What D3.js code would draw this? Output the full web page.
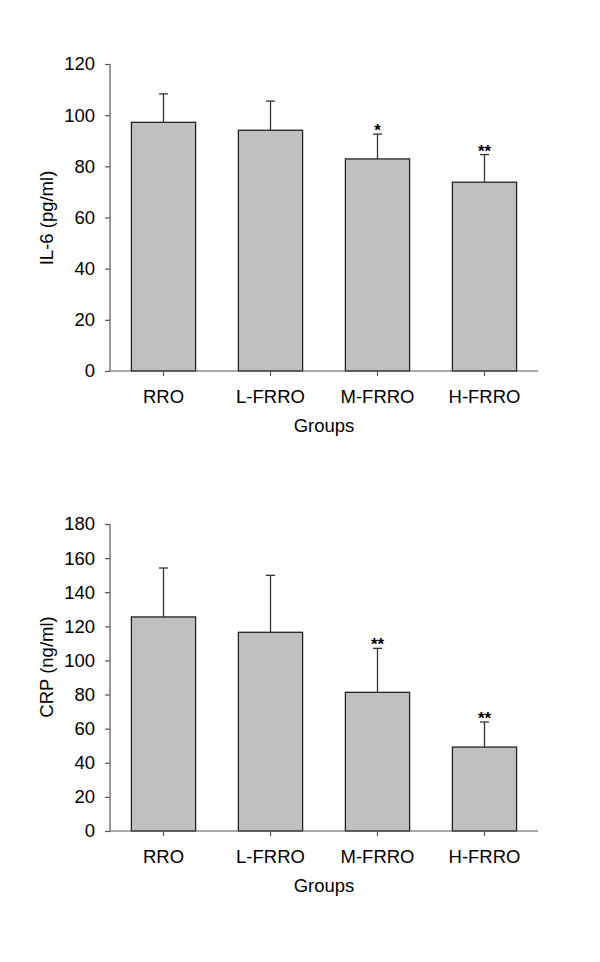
<!DOCTYPE html>
<html>
<head>
<meta charset="utf-8">
<script src="https://cdn.jsdelivr.net/npm/d3@7"></script>
<style>
  html, body { margin: 0; padding: 0; background: #fff; }
  svg { display: block; }
  text { font-family: "Liberation Sans", Arial, sans-serif; fill: #000; }
</style>
</head>
<body>
<div id="chart"></div>
<script>
const groups = ["RRO", "L-FRRO", "M-FRRO", "H-FRRO"];
const il6Mean = [97.2, 94.1, 82.9, 73.8];
const il6Sd = [11.1, 11.4, 9.7, 10.8];
const il6Sig = ["", "", "*", "**"];
const il6Ticks = [0, 20, 40, 60, 80, 100, 120];
const crpMean = [125.5, 116.5, 81.3, 49.2];
const crpSd = [28.7, 33.4, 25.8, 14.7];
const crpSig = ["", "", "**", "**"];
const crpTicks = [0, 20, 40, 60, 80, 100, 120, 140, 160, 180];

const W = 600, H = 962;
const FS = "18.5px";
const svg = d3.select("#chart").append("svg").attr("width", W).attr("height", H);

function panel(cfg) {
  const g = svg.append("g");
  const x = d3.scaleBand().domain(groups).range([110, 538]).paddingInner(0.4).paddingOuter(0.2);
  const y = d3.scaleLinear().domain([0, cfg.max]).range([cfg.y0, cfg.y1]);

  // bars
  g.selectAll("rect.bar").data(groups).join("rect")
    .attr("x", d => x(d)).attr("width", x.bandwidth())
    .attr("y", (d, i) => y(cfg.mean[i]))
    .attr("height", (d, i) => y(0) - y(cfg.mean[i]))
    .attr("fill", "#c0c0c0").attr("stroke", "#222").attr("stroke-width", 1.3);

  // error bars
  const cx = d => x(d) + x.bandwidth() / 2;
  g.selectAll("line.err").data(groups).join("line")
    .attr("x1", cx).attr("x2", cx)
    .attr("y1", (d, i) => y(cfg.mean[i]))
    .attr("y2", (d, i) => y(cfg.mean[i] + cfg.sd[i]))
    .attr("stroke", "#333").attr("stroke-width", 1.3);
  g.selectAll("line.cap").data(groups).join("line")
    .attr("x1", d => cx(d) - 4.5).attr("x2", d => cx(d) + 4.5)
    .attr("y1", (d, i) => y(cfg.mean[i] + cfg.sd[i]))
    .attr("y2", (d, i) => y(cfg.mean[i] + cfg.sd[i]))
    .attr("stroke", "#333").attr("stroke-width", 1.3);

  // significance
  g.selectAll("text.sig").data(groups).join("text")
    .attr("x", cx)
    .attr("y", (d, i) => y(cfg.mean[i] + cfg.sd[i]) + 2)
    .attr("text-anchor", "middle")
    .style("font-size", "17px").style("font-weight", "bold")
    .text((d, i) => cfg.sig[i]);

  // y axis
  const ya = g.append("g").attr("transform", "translate(110,0)")
    .call(d3.axisLeft(y).tickValues(cfg.ticks).tickSize(5).tickPadding(10).tickFormat(d3.format("d")));
  ya.selectAll("text").style("font-size", FS).attr("fill", "#000");
  ya.selectAll("line").attr("stroke", "#555").attr("stroke-width", 1.2);
  ya.select(".domain").attr("stroke", "#555").attr("stroke-width", 1.2)
    .attr("d", `M0,${cfg.y1}V${cfg.y0}`);

  // x axis
  const xa = g.append("g").attr("transform", `translate(0,${cfg.y0})`)
    .call(d3.axisBottom(x).tickSize(5).tickPadding(14));
  xa.selectAll("text").style("font-size", FS).attr("fill", "#000");
  xa.selectAll("line").attr("stroke", "#555").attr("stroke-width", 1.2);
  xa.select(".domain").attr("stroke", "#555").attr("stroke-width", 1.2)
    .attr("d", "M110,0H538");

  // labels
  g.append("text").attr("x", 324).attr("y", cfg.y0 + 61)
    .attr("text-anchor", "middle").style("font-size", FS).text("Groups");
  g.append("text").attr("transform", `translate(53,${cfg.labelY}) rotate(-90)`)
    .attr("text-anchor", "middle").style("font-size", FS).text(cfg.label);
}

panel({ mean: il6Mean, sd: il6Sd, sig: il6Sig, ticks: il6Ticks, max: 120, y0: 371, y1: 64, label: "IL-6 (pg/ml)", labelY: 218 });
panel({ mean: crpMean, sd: crpSd, sig: crpSig, ticks: crpTicks, max: 180, y0: 831, y1: 524, label: "CRP (ng/ml)", labelY: 667 });
</script>
</body>
</html>
